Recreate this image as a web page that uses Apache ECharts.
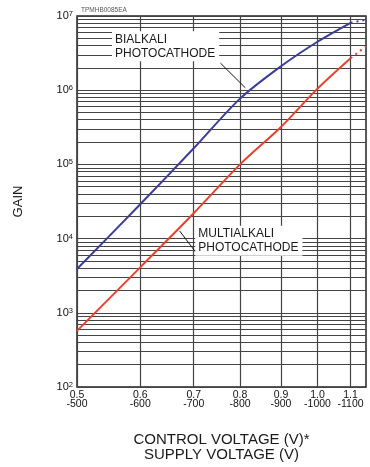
<!DOCTYPE html>
<html><head><meta charset="utf-8">
<script src="https://cdn.jsdelivr.net/npm/echarts@6/dist/echarts.min.js"></script>
<style>html,body{margin:0;padding:0;background:#fff}#c{width:370px;height:467px}</style>
</head><body><div id="c"></div>
<script>
// ---- data ----
const voltage = [0.5, 0.6, 0.7, 0.8, 0.9, 1.0, 1.1];
const bialkaliGain = [3.9e3, 2.9e4, 1.65e5, 7.7e5, 2.1e6, 4.5e6, 8.1e6];
const multialkaliGain = [570, 4.1e3, 2.2e4, 1.0e5, 3.2e5, 1.05e6, 2.7e6];
const extVoltage = [1.1, 1.15];
const bialkaliExt = [8.1e6, 8.9e6];
const multialkaliExt = [2.7e6, 3.9e6];
const xTickValues = [0.5, 0.6, 0.7, 0.8, 0.9, 1.0, 1.1];
const controlLabels = ['0.5', '0.6', '0.7', '0.8', '0.9', '1.0', '1.1'];
const supplyLabels = ['-500', '-600', '-700', '-800', '-900', '-1000', '-1100'];
const yDecades = [100, 1000, 1e4, 1e5, 1e6, 1e7];
const yExps = ['2', '3', '4', '5', '6', '7'];
const yMantissas = [1, 2, 3, 4, 5, 6, 7, 8, 9];

const yGridValues = [];
yDecades.forEach((d, i) => {
  if (i === yDecades.length - 1) { yGridValues.push(d); return; }
  yMantissas.forEach(m => yGridValues.push(m * d));
});

const FONT = '"Liberation Sans", Arial, sans-serif';
const pair = (xs, ys) => xs.map((x, i) => [x, ys[i]]);

const chart = echarts.init(document.getElementById('c'), null, {renderer: 'canvas'});
chart.setOption({
  animation: false,
  backgroundColor: '#fff',
  title: {
    text: 'TPMHB0085EA', left: 76, top: 2,
    textStyle: {fontSize: 6.5, fontWeight: 'normal', color: '#555', fontFamily: FONT}
  },
  grid: {left: 77, right: 4, top: 16, bottom: 72, show: true, borderColor: '#222', borderWidth: 1.5},
  xAxis: {
    type: 'log', logBase: 10, min: 0.5, max: 1.15,
    axisLine: {show: false},
    axisTick: {show: false, customValues: xTickValues},
    splitLine: {show: true, lineStyle: {color: '#444', width: 1.2}},
    axisLabel: {
      customValues: xTickValues,
      margin: 3, fontSize: 10.5, lineHeight: 9.5, color: '#111', fontFamily: FONT,
      formatter: v => {
        let i = xTickValues.findIndex(t => Math.abs(t - v) < 1e-6);
        return i < 0 ? '' : controlLabels[i] + '\n' + supplyLabels[i];
      }
    },
    name: 'CONTROL VOLTAGE (V)*\nSUPPLY VOLTAGE (V)',
    nameLocation: 'middle', nameGap: 45,
    nameTextStyle: {fontSize: 15, lineHeight: 15, color: '#1a1a1a', fontFamily: FONT}
  },
  yAxis: {
    type: 'log', logBase: 10, min: 100, max: 1e7,
    axisLine: {show: false},
    axisTick: {show: false, customValues: yGridValues},
    splitLine: {show: true, lineStyle: {color: '#444', width: 1.2}},
    axisLabel: {
      customValues: yDecades,
      margin: 4, color: '#111', fontFamily: FONT,
      formatter: v => {
        let i = yDecades.findIndex(t => Math.abs(t - v) / t < 1e-6);
        return i < 0 ? '' : '{b|10}{s|' + yExps[i] + '}';
      },
      rich: {
        b: {fontSize: 11, lineHeight: 12, color: '#111', fontFamily: FONT},
        s: {fontSize: 7.5, lineHeight: 7, verticalAlign: 'top', color: '#111', fontFamily: FONT}
      }
    },
    name: 'GAIN', nameLocation: 'middle', nameGap: 52, nameRotate: 90,
    nameTextStyle: {fontSize: 13, color: '#1a1a1a', fontFamily: FONT}
  },
  series: [
    {
      name: 'Bialkali', type: 'line', smooth: 0.3, symbol: 'none',
      data: pair(voltage, bialkaliGain),
      lineStyle: {color: '#3b3c98', width: 2},
      z: 5,
      markLine: {
        silent: true, symbol: ['none', 'arrow'], symbolSize: [0, 7],
        lineStyle: {color: '#111', width: 1, type: 'solid'}, label: {show: false},
        data: [[{coord: [0.756, 2.32e6]}, {coord: [0.812, 1.08e6]}]]
      },
      markPoint: {
        silent: true, symbol: 'rect', symbolSize: 0,
        data: [{coord: [0.553, 3.9e6]}],
        label: {
          show: true, position: 'right', distance: 0,
          formatter: 'BIALKALI\nPHOTOCATHODE',
          fontSize: 12, lineHeight: 14, color: '#1a1a1a', fontFamily: FONT,
          backgroundColor: '#fff', padding: [1, 4, 1, 3]
        }
      }
    },
    {
      name: 'BialkaliExt', type: 'line', symbol: 'none',
      data: pair(extVoltage, bialkaliExt),
      lineStyle: {color: '#3b3c98', width: 2, type: [2, 4]}, z: 5
    },
    {
      name: 'Multialkali', type: 'line', smooth: 0.3, symbol: 'none',
      data: pair(voltage, multialkaliGain),
      lineStyle: {color: '#e8412c', width: 2},
      z: 5,
      markLine: {
        silent: true, symbol: ['none', 'arrow'], symbolSize: [0, 7],
        lineStyle: {color: '#111', width: 1, type: 'solid'}, label: {show: false},
        data: [[{coord: [0.703, 6.7e3]}, {coord: [0.672, 1.27e4]}]]
      },
      markPoint: {
        silent: true, symbol: 'rect', symbolSize: 0,
        data: [{coord: [0.703, 9.35e3]}],
        label: {
          show: true, position: 'right', distance: 0,
          formatter: 'MULTIALKALI\nPHOTOCATHODE',
          fontSize: 12, lineHeight: 14, color: '#1a1a1a', fontFamily: FONT,
          backgroundColor: '#fff', padding: [1, 4, 1, 3]
        }
      }
    },
    {
      name: 'MultialkaliExt', type: 'line', symbol: 'none',
      data: pair(extVoltage, multialkaliExt),
      lineStyle: {color: '#e8412c', width: 2, type: [2, 4]}, z: 5
    }
  ]
});
</script>
</body></html>
